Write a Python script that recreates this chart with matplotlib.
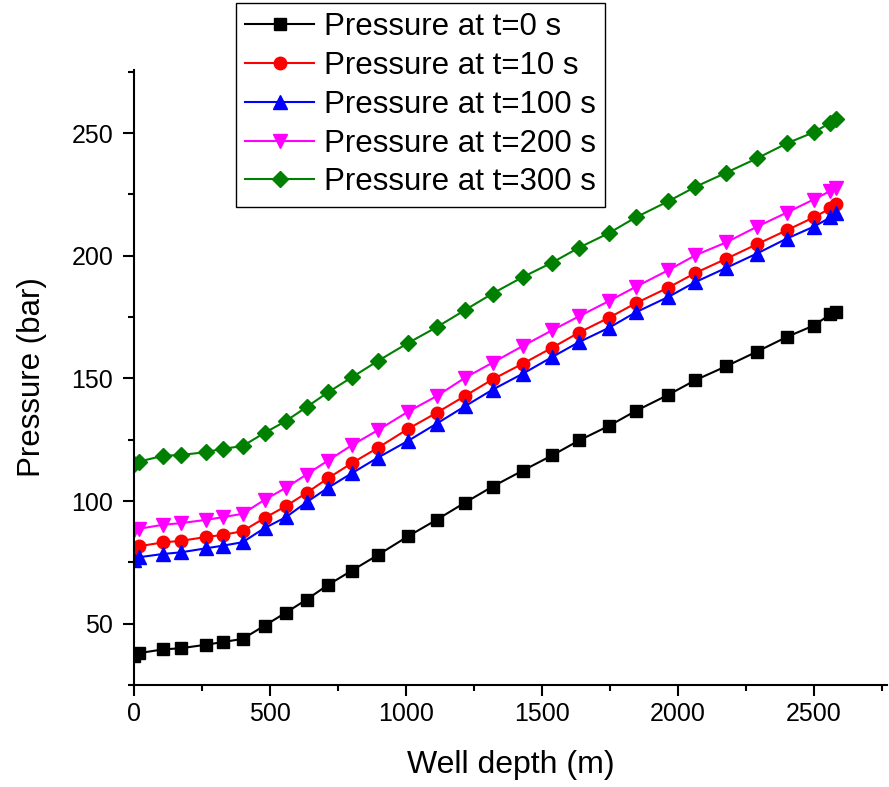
import matplotlib
matplotlib.use("Agg")
import matplotlib.pyplot as plt
from matplotlib.ticker import MultipleLocator

plt.rcParams['font.family'] = ['Liberation Sans', 'DejaVu Sans']

# Data
depth = [0, 20, 106, 174, 264, 327, 400, 481, 559, 635, 714, 801, 896, 1008, 1114,
         1217, 1319, 1430, 1538, 1637, 1748, 1845, 1965, 2065, 2177, 2291, 2401,
         2499, 2561, 2580]

p_t0 = [37.0, 38.0, 39.5, 40.0, 41.4, 42.5, 43.8, 49.2, 54.5, 59.8, 65.8, 71.6,
        77.9, 85.6, 92.4, 99.3, 105.9, 112.4, 118.6, 124.7, 130.7, 136.7, 143.3,
        149.3, 154.9, 160.9, 166.9, 171.5, 176.1, 177.1]
p_t10 = [80.5, 81.6, 83.1, 83.8, 85.3, 86.2, 87.7, 93.1, 97.9, 103.3, 109.3, 115.4,
         121.6, 129.4, 136.0, 142.8, 149.6, 156.0, 162.5, 168.7, 174.8, 180.6, 187.0,
         193.0, 198.7, 204.7, 210.4, 215.6, 219.3, 221.0]
p_t100 = [76.0, 77.1, 78.4, 79.1, 80.7, 81.8, 83.2, 89.0, 93.4, 99.5, 105.4, 111.3,
          117.6, 124.5, 131.6, 138.6, 145.4, 151.9, 158.7, 164.8, 170.7, 176.9, 183.2,
          189.3, 195.0, 200.9, 207.0, 211.8, 215.6, 217.3]
p_t200 = [88.0, 88.7, 90.3, 91.0, 92.3, 93.4, 94.8, 100.5, 105.4, 110.8, 116.5, 122.7,
          128.8, 136.4, 142.8, 150.2, 156.4, 163.2, 169.6, 175.3, 181.6, 187.3, 194.1,
          200.2, 205.4, 211.8, 217.6, 222.9, 226.4, 227.6]
p_t300 = [115.0, 116.1, 118.4, 118.8, 119.9, 121.3, 122.4, 127.8, 132.6, 138.3, 144.3,
          150.4, 157.0, 164.4, 170.9, 177.8, 184.6, 191.3, 197.2, 203.3, 209.3, 215.6,
          222.2, 228.1, 233.8, 239.7, 245.8, 250.3, 254.2, 255.7]

series = [
    (p_t0, 'Pressure at t=0 s', 'black', 's', 8.5),
    (p_t10, 'Pressure at t=10 s', 'red', 'o', 9),
    (p_t100, 'Pressure at t=100 s', 'blue', '^', 9.5),
    (p_t200, 'Pressure at t=200 s', 'magenta', 'v', 9.5),
    (p_t300, 'Pressure at t=300 s', 'green', 'D', 8),
]

fig = plt.figure(figsize=(8.89, 7.87), dpi=100)
ax = fig.add_axes([0.1505, 0.1296, 0.8475, 0.7814])

for vals, label, color, marker, ms in series:
    ax.plot(depth, vals, color=color, marker=marker, markersize=ms,
            linewidth=1.5, label=label)

ax.set_xlim(0, 2770)
ax.set_ylim(25, 275.7)
ax.xaxis.set_major_locator(MultipleLocator(500))
ax.xaxis.set_minor_locator(MultipleLocator(250))
ax.yaxis.set_major_locator(MultipleLocator(50))
ax.yaxis.set_minor_locator(MultipleLocator(25))

ax.spines['top'].set_visible(False)
ax.spines['right'].set_visible(False)
for s in ('left', 'bottom'):
    ax.spines[s].set_linewidth(1.5)

ax.tick_params(which='major', direction='out', length=7.8, width=1.5, labelsize=18)
ax.tick_params(which='minor', direction='out', length=4.2, width=1.5)
ax.tick_params(axis='x', which='major', pad=4.5)
ax.tick_params(axis='y', which='major', pad=7)

ax.set_xlabel('Well depth (m)', fontsize=23)
ax.set_ylabel('Pressure (bar)', fontsize=22.5)
ax.xaxis.set_label_coords(0.5, -0.105)
ax.yaxis.set_label_coords(-0.115, 0.5)

leg = ax.legend(loc='upper left', bbox_to_anchor=(236 / 889, 1 - 3 / 787),
                bbox_transform=fig.transFigure, fontsize=22.5, frameon=True,
                fancybox=False, framealpha=1, edgecolor='black',
                handlelength=2.2, handletextpad=0.3, labelspacing=0.28,
                borderpad=0.3, borderaxespad=0)
leg.get_frame().set_linewidth(1.0)

fig.savefig('out.png', dpi=100)
